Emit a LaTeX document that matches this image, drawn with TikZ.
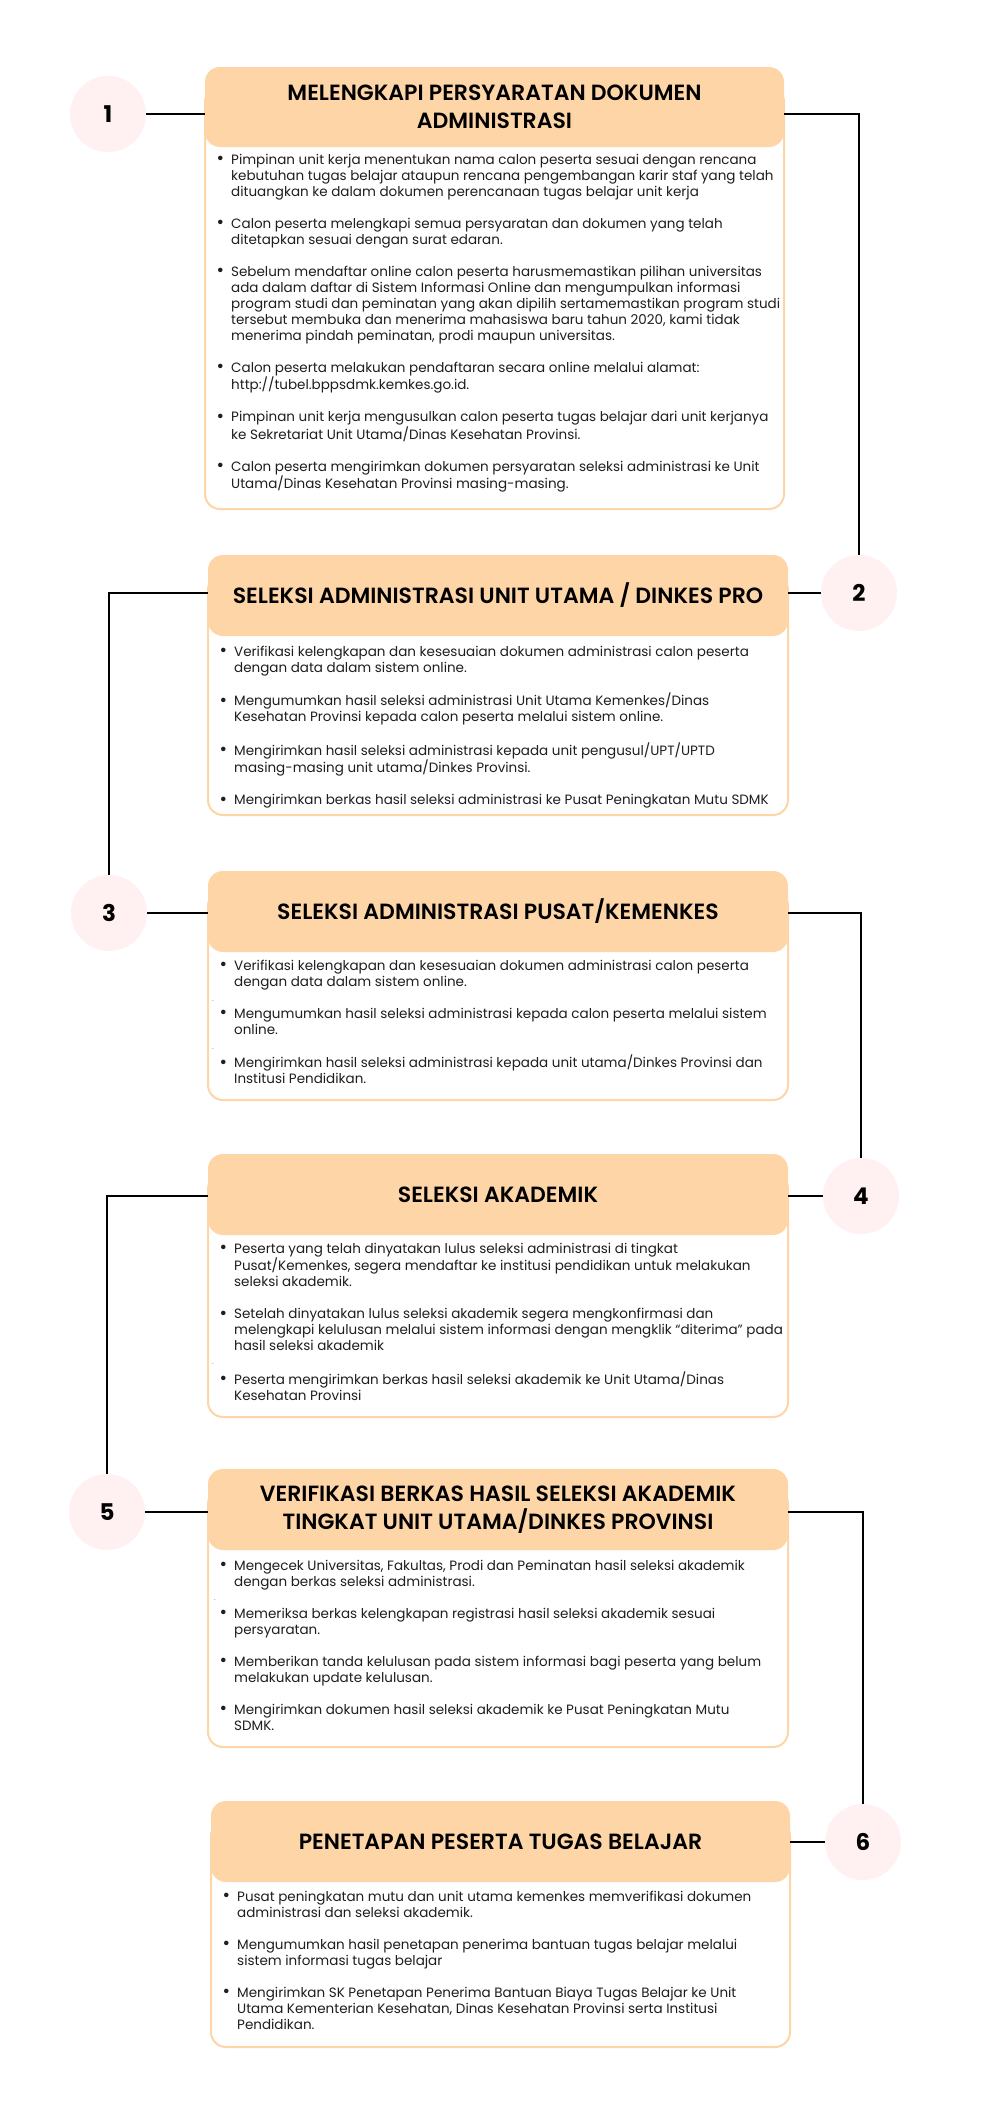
\documentclass[tikz,border=0pt]{standalone}
\usepackage{fontspec}
\setmainfont{Poppins}
\newfontfamily\titlefont{Poppins SemiBold}
\definecolor{peach}{HTML}{FED5A7}
\definecolor{pinkc}{HTML}{FFF1F1}
\definecolor{bodytxt}{HTML}{1E1E1E}
\newcommand{\mybul}{\makebox[14.5pt][l]{\raisebox{-0.3pt}{\scalebox{1.35}{\textbullet}}}}
\begin{document}
\begin{tikzpicture}[x=1pt,y=-1pt,
  hdr/.style={fill=peach, rounded corners=15pt, inner sep=0pt, align=center, font=\titlefont\fontsize{22}{28}\selectfont, text=black},
  onel/.style={text height=15.4pt, text depth=0pt},
  bodybox/.style={draw=peach, line width=2pt, fill=white, rounded corners=15pt, inner sep=0pt},
  numc/.style={circle, fill=pinkc, minimum size=76pt, inner sep=0pt, font=\bfseries\fontsize{23}{23}\selectfont},
  txt/.style={anchor=north west, inner sep=0pt, font=\fontsize{13.5}{16}\selectfont, text=bodytxt},
  conn/.style={line width=2pt, black},
  stray/.style={inner sep=0pt, font=\fontsize{6}{6}\selectfont, text=bodytxt}
]
\useasboundingbox (0,0) rectangle (1000,2104);
\fill[white] (0,0) rectangle (1000,2104);

% ---------- boxes ----------
\node[bodybox, minimum width=579pt, minimum height=422pt] (b1) at (494.5,298) {};
\node[hdr, minimum width=579pt, minimum height=80pt] (h1) at (494.5,107) {MELENGKAPI PERSYARATAN DOKUMEN\\ADMINISTRASI};

\node[bodybox, minimum width=580pt, minimum height=240pt] (b2) at (498,695) {};
\node[hdr, onel, minimum width=580pt, minimum height=81pt] (h2) at (498,595.5) {SELEKSI ADMINISTRASI UNIT UTAMA / DINKES PRO};

\node[bodybox, minimum width=580pt, minimum height=209pt] (b3) at (498,995.5) {};
\node[hdr, onel, minimum width=580pt, minimum height=81pt] (h3) at (498,911.5) {SELEKSI ADMINISTRASI PUSAT/KEMENKES};

\node[bodybox, minimum width=580pt, minimum height=243pt] (b4) at (498,1295.5) {};
\node[hdr, onel, minimum width=580pt, minimum height=81pt] (h4) at (498,1194.5) {SELEKSI AKADEMIK};

\node[bodybox, minimum width=580pt, minimum height=258pt] (b5) at (498,1618) {};
\node[hdr, minimum width=580pt, minimum height=81pt] (h5) at (498,1509.5) {VERIFIKASI BERKAS HASIL SELEKSI AKADEMIK\\TINGKAT UNIT UTAMA/DINKES PROVINSI};

\node[bodybox, minimum width=579pt, minimum height=226pt] (b6) at (500.5,1934) {};
\node[hdr, onel, minimum width=579pt, minimum height=81pt] (h6) at (500.5,1841.5) {PENETAPAN PESERTA TUGAS BELAJAR};

% ---------- circles ----------
\node[numc] (c1) at (108,114) {1};
\node[numc] (c2) at (859,593) {2};
\node[numc] (c3) at (109,913) {3};
\node[numc] (c4) at (861,1196) {4};
\node[numc] (c5) at (107,1512) {5};
\node[numc] (c6) at (863,1842) {6};

% ---------- connectors ----------
\draw[conn] (c1.east) -- (c1.east -| h1.west);
\draw[conn] (h1.east |- c1.east) -| (c2.north);
\draw[conn] (h2.east |- c2.west) -- (c2.west);
\draw[conn] (h2.west |- c2.west) -| (c3.north);
\draw[conn] (c3.east) -- (c3.east -| h3.west);
\draw[conn] (h3.east |- c3.east) -| (c4.north);
\draw[conn] (h4.east |- c4.west) -- (c4.west);
\draw[conn] (h4.west |- c4.west) -| (c5.north);
\draw[conn] (c5.east) -- (c5.east -| h5.west);
\draw[conn] (h5.east |- c5.east) -| (c6.north);
\draw[conn] (h6.east |- c6.west) -- (c6.west);

% ---------- body texts ----------
\node[txt] (t1) at (216.5,152.8) {\begin{tabular}{@{}l@{}l@{}}
\mybul & Pimpinan unit kerja menentukan nama calon peserta sesuai dengan rencana\\
 & kebutuhan tugas belajar ataupun rencana pengembangan karir staf yang telah\\
 & dituangkan ke dalam dokumen perencanaan tugas belajar unit kerja\\[16pt]
\mybul & Calon peserta melengkapi semua persyaratan dan dokumen yang telah\\
 & ditetapkan sesuai dengan surat edaran.\\[16pt]
\mybul & Sebelum mendaftar online calon peserta harusmemastikan pilihan universitas\\
 & ada dalam daftar di Sistem Informasi Online dan mengumpulkan informasi\\
 & program studi dan peminatan yang akan dipilih sertamemastikan program studi\\
 & tersebut membuka dan menerima mahasiswa baru tahun 2020, kami tidak\\
 & menerima pindah peminatan, prodi maupun universitas.\\[16pt]
\mybul & Calon peserta melakukan pendaftaran secara online melalui alamat:\\
 & http://tubel.bppsdmk.kemkes.go.id.\\[16pt]
\mybul & Pimpinan unit kerja mengusulkan calon peserta tugas belajar dari unit kerjanya\\
 & ke Sekretariat Unit Utama/Dinas Kesehatan Provinsi.\\[16pt]
\mybul & Calon peserta mengirimkan dokumen persyaratan seleksi administrasi ke Unit\\
 & Utama/Dinas Kesehatan Provinsi masing-masing.
\end{tabular}};

\node[txt] (t2) at (219.5,644.8) {\begin{tabular}{@{}l@{}l@{}}
\mybul & Verifikasi kelengkapan dan kesesuaian dokumen administrasi calon peserta\\
 & dengan data dalam sistem online.\\[16pt]
\mybul & Mengumumkan hasil seleksi administrasi Unit Utama Kemenkes/Dinas\\
 & Kesehatan Provinsi kepada calon peserta melalui sistem online.\\[16pt]
\mybul & Mengirimkan hasil seleksi administrasi kepada unit pengusul/UPT/UPTD\\
 & masing-masing unit utama/Dinkes Provinsi.\\[16pt]
\mybul & Mengirimkan berkas hasil seleksi administrasi ke Pusat Peningkatan Mutu SDMK
\end{tabular}};

\node[txt] (t3) at (219.5,958.8) {\begin{tabular}{@{}l@{}l@{}}
\mybul & Verifikasi kelengkapan dan kesesuaian dokumen administrasi calon peserta\\
 & dengan data dalam sistem online.\\[16pt]
\mybul & Mengumumkan hasil seleksi administrasi kepada calon peserta melalui sistem\\
 & online.\\[16pt]
\mybul & Mengirimkan hasil seleksi administrasi kepada unit utama/Dinkes Provinsi dan\\
 & Institusi Pendidikan.
\end{tabular}};

\node[txt] (t4) at (219.5,1241.8) {\begin{tabular}{@{}l@{}l@{}}
\mybul & Peserta yang telah dinyatakan lulus seleksi administrasi di tingkat\\
 & Pusat/Kemenkes, segera mendaftar ke institusi pendidikan untuk melakukan\\
 & seleksi akademik.\\[16pt]
\mybul & Setelah dinyatakan lulus seleksi akademik segera mengkonfirmasi dan\\
 & melengkapi kelulusan melalui sistem informasi dengan mengklik “diterima” pada\\
 & hasil seleksi akademik\\[16pt]
\mybul & Peserta mengirimkan berkas hasil seleksi akademik ke Unit Utama/Dinas\\
 & Kesehatan Provinsi
\end{tabular}};

\node[txt] (t5) at (219.5,1558.8) {\begin{tabular}{@{}l@{}l@{}}
\mybul & Mengecek Universitas, Fakultas, Prodi dan Peminatan hasil seleksi akademik\\
 & dengan berkas seleksi administrasi.\\[16pt]
\mybul & Memeriksa berkas kelengkapan registrasi hasil seleksi akademik sesuai\\
 & persyaratan.\\[16pt]
\mybul & Memberikan tanda kelulusan pada sistem informasi bagi peserta yang belum\\
 & melakukan update kelulusan.\\[16pt]
\mybul & Mengirimkan dokumen hasil seleksi akademik ke Pusat Peningkatan Mutu\\
 & SDMK.
\end{tabular}};

\node[txt] (t6) at (222.5,1889.8) {\begin{tabular}{@{}l@{}l@{}}
\mybul & Pusat peningkatan mutu dan unit utama kemenkes memverifikasi dokumen\\
 & administrasi dan seleksi akademik.\\[16pt]
\mybul & Mengumumkan hasil penetapan penerima bantuan tugas belajar melalui\\
 & sistem informasi tugas belajar\\[16pt]
\mybul & Mengirimkan SK Penetapan Penerima Bantuan Biaya Tugas Belajar ke Unit\\
 & Utama Kementerian Kesehatan, Dinas Kesehatan Provinsi serta Institusi\\
 & Pendidikan.
\end{tabular}};

% ---------- stray dots ----------
\node[stray] (d1) at (213,1001) {.};
\node[stray] (d2) at (213,1049) {.};
\node[stray] (d3) at (213,1364) {.};
\node[stray] (d4) at (215,1600) {.};
\end{tikzpicture}
\end{document}
